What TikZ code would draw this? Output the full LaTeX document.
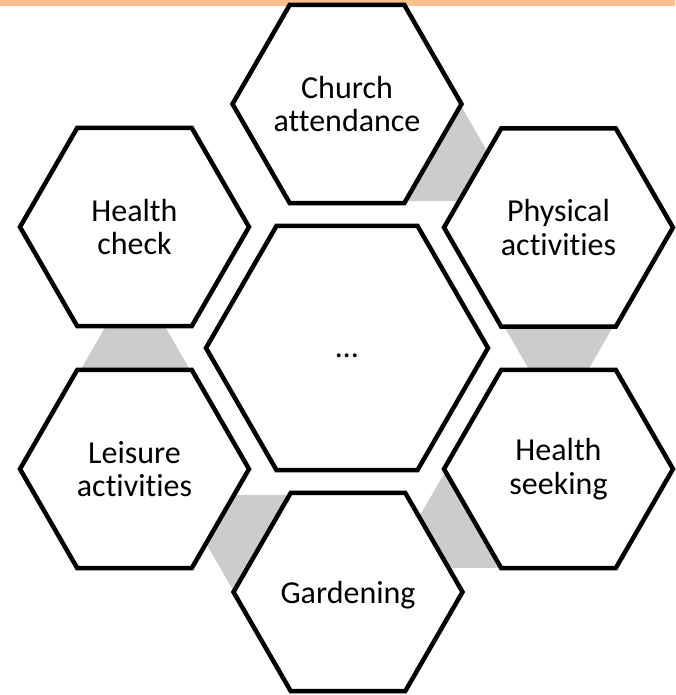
\documentclass[tikz,border=0pt]{standalone}
\usepackage{fontspec}
\setmainfont{Carlito}[Ligatures={NoCommon}]
\definecolor{barorange}{RGB}{251,192,141}
\definecolor{conngray}{RGB}{204,204,204}
\begin{document}
\begin{tikzpicture}[x=1pt,y=-1pt,
  hexo/.style={draw=black, line width=4.5pt, fill=white, line join=miter},
  conn/.style={fill=conngray, draw=none},
  lbl/.style={align=center, inner sep=0pt, font=\fontsize{32}{33.5}\selectfont, text=black}]
\useasboundingbox (0,0) rectangle (675,695);
\fill[barorange] (0,0) rectangle (675,5.7);
% grey connecting hexagons (behind)
\fill[conn, shift={(429.0,150.9)}] (0:58) -- (60:58) -- (120:58) -- (180:58) -- (240:58) -- (300:58) -- cycle;
\fill[conn, shift={(558.7,320.5)}] (0:58) -- (60:58) -- (120:58) -- (180:58) -- (240:58) -- (300:58) -- cycle;
\fill[conn, shift={(476.7,517.6)}] (0:58) -- (60:58) -- (120:58) -- (180:58) -- (240:58) -- (300:58) -- cycle;
\fill[conn, shift={(265.0,545.1)}] (0:58) -- (60:58) -- (120:58) -- (180:58) -- (240:58) -- (300:58) -- cycle;
\fill[conn, shift={(135.3,375.5)}] (0:58) -- (60:58) -- (120:58) -- (180:58) -- (240:58) -- (300:58) -- cycle;
% centre hexagon
\draw[hexo, shift={(347,348)}] (0:141) -- (60:141) -- (120:141) -- (180:141) -- (240:141) -- (300:141) -- cycle;
\node[lbl, anchor=base] (mid) at (347,357) {…};
% outer hexagons
\draw[hexo, shift={(347,104)}] (0:114.5) -- (60:114.5) -- (120:114.5) -- (180:114.5) -- (240:114.5) -- (300:114.5) -- cycle;
\node[lbl] (church) at (347,104) {Church\\attendance};
\draw[hexo, shift={(558.5,227.5)}] (0:114.5) -- (60:114.5) -- (120:114.5) -- (180:114.5) -- (240:114.5) -- (300:114.5) -- cycle;
\node[lbl] (phys) at (558.5,227.5) {Physical\\activities};
\draw[hexo, shift={(558.5,469)}] (0:114.5) -- (60:114.5) -- (120:114.5) -- (180:114.5) -- (240:114.5) -- (300:114.5) -- cycle;
\node[lbl] (seek) at (558.5,469) {Health\\seeking};
\draw[hexo, shift={(348,592)}] (0:114.5) -- (60:114.5) -- (120:114.5) -- (180:114.5) -- (240:114.5) -- (300:114.5) -- cycle;
\node[lbl, anchor=base] (garden) at (348,603) {Gardening};
\draw[hexo, shift={(134.5,469)}] (0:114.5) -- (60:114.5) -- (120:114.5) -- (180:114.5) -- (240:114.5) -- (300:114.5) -- cycle;
\node[lbl] (leisure) at (134.5,469) {Leisure\\activities};
\draw[hexo, shift={(134.5,227)}] (0:114.5) -- (60:114.5) -- (120:114.5) -- (180:114.5) -- (240:114.5) -- (300:114.5) -- cycle;
\node[lbl] (check) at (134.5,227) {Health\\check};
\end{tikzpicture}
\end{document}
